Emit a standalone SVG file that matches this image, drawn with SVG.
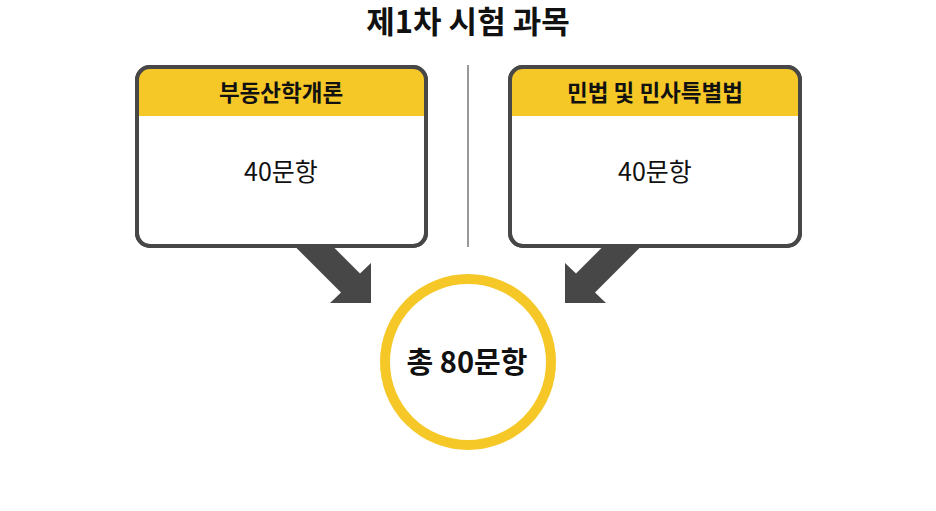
<svg xmlns="http://www.w3.org/2000/svg" width="936" height="511" viewBox="0 0 936 511">
<defs>
<style>
text{font-family:"Noto Sans CJK KR","Noto Sans",sans-serif;fill:#111;text-anchor:middle}
.title{font-size:31px;font-weight:700}
.head{font-size:22.5px;font-weight:700}
.body{font-size:25px;font-weight:400}
.total{font-size:29px;font-weight:700}
.frame{fill:#fff;stroke:#474747;stroke-width:4}
.band{fill:#F5C828}
.arrow{fill:#474747}
</style>
<clipPath id="cl"><rect x="137" y="67" width="289" height="179" rx="13"/></clipPath>
<clipPath id="cr"><rect x="510" y="67" width="290" height="179" rx="13"/></clipPath>
</defs>
<rect width="936" height="511" fill="#fff"/>
<text class="title" x="468" y="33">제1차 시험 과목</text>
<g id="connectors">
<line x1="468" y1="65" x2="468" y2="247" stroke="#555" stroke-width="1.2"/>
<polygon class="arrow" points="309.5,223 360,273.5 371,263 371,303 330,303 341,292.5 290.5,242"/>
<polygon class="arrow" points="626.5,223 576,273.5 565,263 565,303 606,303 595,292.5 645.5,242"/>
</g>
<g id="box-left">
<rect class="frame" x="137" y="67" width="289" height="179" rx="13"/>
<rect class="band" x="137" y="67" width="289" height="49" clip-path="url(#cl)"/>
<rect x="137" y="67" width="289" height="179" rx="13" fill="none" stroke="#474747" stroke-width="4"/>
<text class="head" x="281" y="101">부동산학개론</text>
<text class="body" x="281" y="181">40문항</text>
</g>
<g id="box-right">
<rect class="frame" x="510" y="67" width="290" height="179" rx="13"/>
<rect class="band" x="510" y="67" width="290" height="49" clip-path="url(#cr)"/>
<rect x="510" y="67" width="290" height="179" rx="13" fill="none" stroke="#474747" stroke-width="4"/>
<text class="head" x="655" y="101">민법 및 민사특별법</text>
<text class="body" x="655" y="181">40문항</text>
</g>
<g id="total">
<circle cx="468" cy="362" r="83" fill="#fff" stroke="#F5C828" stroke-width="10"/>
<text class="total" x="467" y="373">총 80문항</text>
</g>
</svg>
